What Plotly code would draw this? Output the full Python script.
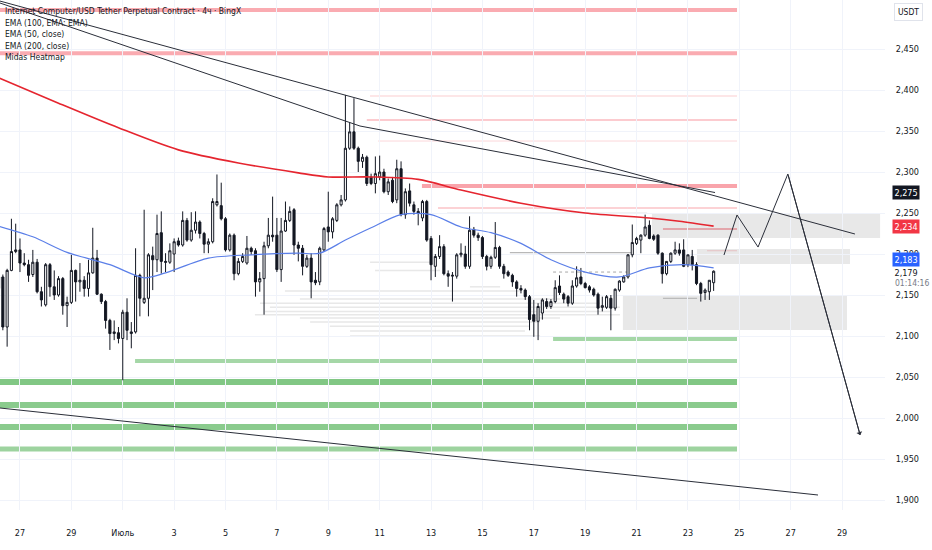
import plotly.graph_objects as go
import pandas as pd

# ---------------- data ----------------
candle_start = "2025-06-26 04:00"   # first 4h candle
opens = [2158, 2172, 2111, 2180, 2203, 2205, 2189, 2187, 2175, 2190,
         2154, 2138, 2187, 2160, 2150, 2170, 2137, 2141, 2180, 2166,
         2168, 2158, 2177, 2195, 2151, 2142, 2119, 2103, 2104, 2097,
         2129, 2103, 2105, 2174, 2141, 2146, 2198, 2193, 2226, 2191,
         2190, 2200, 2216, 2211, 2241, 2217, 2229, 2239, 2225, 2212,
         2215, 2260, 2259, 2243, 2205, 2223, 2176, 2191, 2189, 2207,
         2204, 2166, 2170, 2210, 2223, 2223, 2181, 2228, 2241, 2254,
         2211, 2207, 2185, 2195, 2168, 2166, 2205, 2233, 2227, 2241,
         2260, 2266, 2329, 2349, 2329, 2313, 2318, 2294, 2286, 2294,
         2300, 2276, 2290, 2266, 2304, 2248, 2277, 2260, 2252, 2244,
         2264, 2219, 2185, 2197, 2209, 2176, 2173, 2173, 2199, 2200,
         2185, 2230, 2223, 2220, 2197, 2185, 2196, 2208, 2185, 2178,
         2174, 2166, 2158, 2156, 2148, 2126, 2118, 2128, 2142, 2136,
         2142, 2161, 2151, 2148, 2140, 2161, 2172, 2164, 2160, 2157,
         2151, 2135, 2135, 2146, 2134, 2156, 2166, 2172, 2199, 2213,
         2217, 2223, 2235, 2222, 2223, 2201, 2176, 2191, 2201, 2205,
         2205, 2187, 2197, 2187, 2164, 2153, 2154, 2165]
highs = [2176, 2175, 2182, 2243, 2237, 2219, 2201, 2193, 2205, 2194,
         2160, 2189, 2189, 2180, 2173, 2172, 2148, 2199, 2181, 2189,
         2173, 2193, 2232, 2205, 2152, 2144, 2121, 2119, 2111, 2132,
         2146, 2117, 2207, 2176, 2254, 2201, 2209, 2248, 2252, 2201,
         2213, 2219, 2220, 2252, 2244, 2251, 2252, 2241, 2227, 2219,
         2268, 2297, 2287, 2245, 2225, 2225, 2195, 2201, 2222, 2209,
         2207, 2178, 2215, 2244, 2270, 2244, 2244, 2264, 2258, 2256,
         2215, 2211, 2199, 2201, 2178, 2209, 2233, 2276, 2245, 2262,
         2272, 2394, 2361, 2390, 2331, 2322, 2320, 2298, 2319, 2320,
         2304, 2292, 2294, 2315, 2313, 2280, 2286, 2264, 2256, 2266,
         2266, 2222, 2200, 2223, 2212, 2180, 2178, 2201, 2213, 2210,
         2246, 2233, 2226, 2222, 2199, 2198, 2239, 2210, 2188, 2180,
         2176, 2168, 2162, 2158, 2150, 2144, 2140, 2146, 2146, 2145,
         2168, 2174, 2153, 2150, 2168, 2185, 2183, 2166, 2162, 2159,
         2153, 2148, 2150, 2150, 2158, 2168, 2174, 2200, 2236, 2221,
         2224, 2248, 2241, 2224, 2224, 2202, 2191, 2202, 2215, 2213,
         2218, 2199, 2205, 2190, 2166, 2158, 2168, 2180]
lows = [2150, 2107, 2087, 2179, 2201, 2178, 2185, 2166, 2172, 2152,
        2136, 2136, 2148, 2144, 2148, 2126, 2111, 2139, 2142, 2154,
        2148, 2148, 2176, 2150, 2139, 2109, 2083, 2095, 2091, 2046,
        2095, 2085, 2103, 2124, 2139, 2124, 2156, 2178, 2176, 2178,
        2188, 2178, 2209, 2209, 2215, 2215, 2225, 2219, 2201, 2201,
        2213, 2258, 2241, 2203, 2203, 2168, 2174, 2189, 2187, 2199,
        2148, 2154, 2126, 2207, 2215, 2178, 2166, 2227, 2239, 2199,
        2191, 2174, 2183, 2146, 2162, 2162, 2203, 2215, 2219, 2239,
        2258, 2264, 2327, 2327, 2300, 2305, 2283, 2284, 2274, 2290,
        2274, 2272, 2262, 2262, 2246, 2243, 2258, 2248, 2235, 2240,
        2215, 2168, 2172, 2194, 2174, 2160, 2142, 2170, 2196, 2182,
        2182, 2220, 2216, 2194, 2180, 2182, 2194, 2182, 2170, 2172,
        2160, 2148, 2152, 2144, 2107, 2099, 2095, 2120, 2133, 2133,
        2140, 2150, 2140, 2136, 2138, 2159, 2162, 2158, 2153, 2148,
        2126, 2130, 2133, 2107, 2131, 2154, 2165, 2170, 2196, 2211,
        2201, 2221, 2218, 2216, 2199, 2164, 2174, 2189, 2199, 2198,
        2184, 2184, 2180, 2162, 2142, 2144, 2144, 2155]
closes = [2172, 2111, 2180, 2203, 2205, 2189, 2187, 2174, 2190, 2154,
          2144, 2187, 2160, 2150, 2170, 2137, 2141, 2180, 2166, 2168,
          2158, 2177, 2195, 2151, 2142, 2119, 2103, 2105, 2097, 2129,
          2107, 2105, 2174, 2146, 2146, 2199, 2193, 2225, 2191, 2190,
          2204, 2215, 2211, 2241, 2217, 2229, 2239, 2225, 2212, 2215,
          2264, 2264, 2243, 2205, 2223, 2176, 2191, 2197, 2207, 2203,
          2166, 2170, 2210, 2223, 2221, 2181, 2228, 2241, 2252, 2211,
          2207, 2185, 2195, 2166, 2165, 2207, 2231, 2227, 2243, 2260,
          2266, 2329, 2349, 2329, 2313, 2318, 2286, 2286, 2298, 2300,
          2276, 2288, 2264, 2304, 2248, 2276, 2262, 2252, 2250, 2264,
          2217, 2187, 2197, 2209, 2176, 2173, 2174, 2199, 2201, 2185,
          2229, 2223, 2220, 2197, 2185, 2196, 2208, 2185, 2176, 2174,
          2166, 2158, 2156, 2148, 2120, 2118, 2136, 2144, 2136, 2142,
          2159, 2153, 2145, 2140, 2161, 2171, 2164, 2159, 2156, 2150,
          2134, 2137, 2148, 2134, 2157, 2167, 2172, 2199, 2214, 2219,
          2223, 2233, 2219, 2218, 2201, 2176, 2191, 2201, 2205, 2201,
          2185, 2199, 2187, 2164, 2152, 2156, 2168, 2179]

# EMA 200 (close) and EMA 50 (close), read at selected candles
ema200_idx = [0, 14, 28, 42, 56, 70, 77, 87, 98, 108, 122, 137, 152, 159, 167]
ema200_val = [2415, 2384, 2354, 2327, 2311, 2299, 2294, 2294, 2291, 2278, 2262, 2250, 2244, 2240, 2234]
ema50_idx = [0, 8, 16, 26, 34, 39, 49, 59, 70, 75, 81, 87, 94, 101, 108, 115, 122, 129, 137, 145, 152, 160, 167]
ema50_val = [2234, 2221, 2202, 2187, 2171, 2177, 2195, 2199, 2201, 2201, 2217, 2232, 2248, 2248, 2233,
             2226, 2213, 2193, 2178, 2172, 2183, 2187, 2183]

# Midas heatmap levels
heat_end = "2025-07-24 21:50"
red_levels = [2497.5, 2445, 2392.7, 2363.4, 2337.8, 2283, 2256, 2230.5, 2204]
red_from = ["2025-06-26 00:00", "2025-06-26 00:00", "2025-07-10 15:00", "2025-07-10 12:00",
            "2025-07-10 22:30", "2025-07-12 15:30", "2025-07-13 06:30", "2025-07-22 00:40",
            "2025-07-23 17:50"]
green_levels = [2096.3, 2069.5, 2043.9, 2015.9, 1989.0, 1962.2]
green_from = ["2025-07-17 18:00", "2025-07-01 11:30", "2025-06-26 00:00", "2025-06-26 00:00",
              "2025-06-26 00:00", "2025-06-26 00:00"]
gray_levels = [2190, 2180, 2160, 2155, 2145, 2140, 2135, 2130, 2126, 2122, 2117, 2112, 2106, 2100]
gray_from = ["2025-07-10 15:00", "2025-07-10 19:40", "2025-07-14 12:20", "2025-07-07 07:30",
             "2025-07-07 21:30", "2025-07-06 08:10", "2025-07-06 17:30", "2025-07-06 12:50",
             "2025-07-06 03:30", "2025-07-07 21:30", "2025-07-08 07:00", "2025-07-09 01:30",
             "2025-07-09 20:20", "2025-07-09 20:20"]
gray_to = ["2025-07-12 23:00", "2025-07-13 08:20", "2025-07-15 16:30", "2025-07-16 11:00",
           "2025-07-18 00:30", "2025-07-19 13:50", "2025-07-20 08:30", "2025-07-19 23:10",
           "2025-07-20 08:30", "2025-07-18 00:30", "2025-07-17 05:50", "2025-07-16 20:30",
           "2025-07-16 15:45", "2025-07-17 05:50"]
level_lines = [2249.6, 2201.6, 2178, 2146]
level_from = ["2025-07-13 15:00", "2025-07-16 01:40", "2025-07-17 18:00", "2025-07-22 00:40"]
level_to = ["2025-07-21 09:50", "2025-07-20 19:40", "2025-07-20 15:00", "2025-07-23 08:30"]

# zones (gray boxes)
zone_from = ["2025-07-21 14:20", "2025-07-23 08:25", "2025-07-20 11:15"]
zone_to = ["2025-07-30 11:30", "2025-07-29 07:25", "2025-07-29 04:35"]
zone_low = [2219.5, 2187.8, 2107.3]
zone_high = [2248.8, 2206.1, 2150.0]

# drawn trend lines
trend_a_x = ["2025-06-26 05:19", "2025-07-29 12:00"]
trend_a_y = [2508.5, 2224.4]
trend_b_x = ["2025-06-26 05:19", "2025-07-10 05:38", "2025-07-24 01:18"]
trend_b_y = [2506.1, 2356.1, 2275]
trend_c_x = ["2025-06-26 05:19", "2025-07-28 01:30"]
trend_c_y = [2012.2, 1906.1]
path_x = ["2025-07-24 09:40", "2025-07-24 21:50", "2025-07-25 17:30", "2025-07-26 21:20", "2025-07-29 16:50"]
path_y = [2198.8, 2247.6, 2208.5, 2297.6, 1979.3]

# axis ticks
xtick_vals = ["2025-06-27", "2025-06-29", "2025-07-01", "2025-07-03", "2025-07-05", "2025-07-07",
              "2025-07-09", "2025-07-11", "2025-07-13", "2025-07-15", "2025-07-17", "2025-07-19",
              "2025-07-21", "2025-07-23", "2025-07-25", "2025-07-27", "2025-07-29"]
xtick_text = ["27", "29", "Июль", "3", "5", "7", "9", "11", "13", "15", "17", "19", "21", "23", "25", "27", "29"]
ytick_vals = [1900, 1950, 2000, 2050, 2100, 2150, 2200, 2250, 2300, 2350, 2400, 2450]

legend_lines = ["Internet Computer/USD Tether Perpetual Contract · 4ч · BingX",
                "EMA (100, EMA: EMA)", "EMA (50, close)", "EMA (200, close)", "Midas Heatmap"]
last_price = 2179
ema200_last = 2234
ema50_last = 2183
trend_label = 2275
countdown = "01:14:16"

# ---------------- styles ----------------
FONT = "Liberation Sans Narrow, DejaVu Sans Condensed, Roboto, sans-serif"
TXT = "#131722"
red_width = [4, 4, 1, 1.5, 1, 4, 1.5, 2, 1]
red_alpha = [0.42, 0.42, 0.25, 0.35, 0.2, 0.45, 0.3, 0.5, 0.3]
green_width = [4, 4, 6, 6, 6, 5]
green_alpha = [0.5, 0.5, 0.7, 0.65, 0.65, 0.55]

times = pd.date_range(candle_start, periods=len(closes), freq="4h")

fig = go.Figure()

shapes = []
for lv, f, w, a in zip(red_levels, red_from, red_width, red_alpha):
    shapes.append(dict(type="line", xref="x", yref="y", x0=f, x1=heat_end, y0=lv, y1=lv,
                       line=dict(color=f"rgba(242,54,69,{a})", width=w), layer="below"))
for lv, f, w, a in zip(green_levels, green_from, green_width, green_alpha):
    shapes.append(dict(type="line", xref="x", yref="y", x0=f, x1=heat_end, y0=lv, y1=lv,
                       line=dict(color=f"rgba(76,175,80,{a})", width=w), layer="below"))
for lv, f, t in zip(gray_levels, gray_from, gray_to):
    shapes.append(dict(type="line", xref="x", yref="y", x0=f, x1=t, y0=lv, y1=lv,
                       line=dict(color="rgba(150,150,150,0.22)", width=1.5), layer="below"))
for i, (lv, f, t) in enumerate(zip(level_lines, level_from, level_to)):
    shapes.append(dict(type="line", xref="x", yref="y", x0=f, x1=t, y0=lv, y1=lv,
                       line=dict(color="rgba(110,110,110,0.6)", width=1,
                                 dash="dot" if i == 2 else "solid"), layer="below"))
for f, t, lo, hi in zip(zone_from, zone_to, zone_low, zone_high):
    shapes.append(dict(type="rect", xref="x", yref="y", x0=f, x1=t, y0=lo, y1=hi,
                       fillcolor="rgba(190,190,190,0.35)", line=dict(width=0), layer="below"))

fig.add_trace(go.Candlestick(
    x=times, open=opens, high=highs, low=lows, close=closes,
    increasing=dict(line=dict(color="#131722", width=1), fillcolor="#ffffff"),
    decreasing=dict(line=dict(color="#131722", width=1), fillcolor="#131722"),
    whiskerwidth=0, showlegend=False, hoverinfo="skip"))

fig.add_trace(go.Scatter(x=times[ema200_idx], y=ema200_val, mode="lines",
                         line=dict(color="#E5252F", width=1.6, shape="spline", smoothing=0.8),
                         showlegend=False, hoverinfo="skip"))
fig.add_trace(go.Scatter(x=times[ema50_idx], y=ema50_val, mode="lines",
                         line=dict(color="#5B7FE8", width=1.2, shape="spline", smoothing=0.8),
                         showlegend=False, hoverinfo="skip"))

for xs, ys in [(trend_a_x, trend_a_y), (trend_b_x, trend_b_y), (trend_c_x, trend_c_y), (path_x, path_y)]:
    fig.add_trace(go.Scatter(x=xs, y=ys, mode="lines", line=dict(color="#2a2e39", width=1),
                             showlegend=False, hoverinfo="skip"))

annotations = []
# arrow head at the end of the projected path
annotations.append(dict(x=path_x[-1], y=path_y[-1], xref="x", yref="y",
                        ax=path_x[-2], ay=path_y[-2], axref="x", ayref="y",
                        showarrow=True, arrowhead=1, arrowsize=1, arrowwidth=1,
                        arrowcolor="#2a2e39", text=""))
for i, t in enumerate(legend_lines):
    annotations.append(dict(x=0, y=1, xref="paper", yref="paper", xanchor="left", yanchor="middle",
                            xshift=3, yshift=-11 - 11.6 * i, text=t, showarrow=False,
                            font=dict(family=FONT, size=8.5, color=TXT)))


def price_tag(val, bg, fg, yshift=0):
    return dict(x=1, y=val, xref="paper", yref="y", xanchor="left", yanchor="middle",
                xshift=7, yshift=yshift, text=f"{val:,}", showarrow=False,
                bgcolor=bg, borderpad=1.5, font=dict(family=FONT, size=9, color=fg))


annotations.append(price_tag(trend_label, "#131722", "#ffffff"))
annotations.append(price_tag(ema200_last, "#F23645", "#ffffff"))
annotations.append(price_tag(ema50_last, "#2962FF", "#ffffff", yshift=8))
annotations.append(price_tag(last_price, "rgba(0,0,0,0)", TXT, yshift=-1))
annotations.append(dict(x=1, y=last_price, xref="paper", yref="y", xanchor="left", yanchor="middle",
                        xshift=8, yshift=-12, text=countdown, showarrow=False,
                        font=dict(family=FONT, size=8.5, color="#787b86")))
annotations.append(dict(x=1, y=1, xref="paper", yref="paper", xanchor="left", yanchor="middle",
                        xshift=9, yshift=-12, text="USDT", showarrow=False,
                        bordercolor="#e0e3eb", borderwidth=1, borderpad=3,
                        font=dict(family=FONT, size=8.5, color=TXT)))

fig.update_layout(
    width=932, height=550,
    margin=dict(l=0, r=47, t=0, b=40),
    paper_bgcolor="#ffffff", plot_bgcolor="#ffffff",
    shapes=shapes, annotations=annotations,
    showlegend=False,
    xaxis=dict(type="date", range=["2025-06-26 05:20", "2025-07-30 16:05"],
               rangeslider=dict(visible=False),
               tickvals=xtick_vals, ticktext=xtick_text,
               tickfont=dict(family=FONT, size=9, color=TXT),
               ticks="outside", ticklen=14, tickcolor="rgba(0,0,0,0)",
               showgrid=True, gridcolor="#f0f3fa", gridwidth=1,
               zeroline=False, showline=False, fixedrange=True),
    yaxis=dict(side="right", range=[1887.8, 2509.8],
               tickvals=ytick_vals, tickformat=",d",
               tickfont=dict(family=FONT, size=9, color=TXT),
               ticks="outside", ticklen=8, tickcolor="rgba(0,0,0,0)",
               showgrid=True, gridcolor="#f0f3fa", gridwidth=1,
               zeroline=False, showline=False, fixedrange=True),
)

fig.write_html("out.html", config={"displayModeBar": False},
               post_script="document.body.style.margin='0';")
